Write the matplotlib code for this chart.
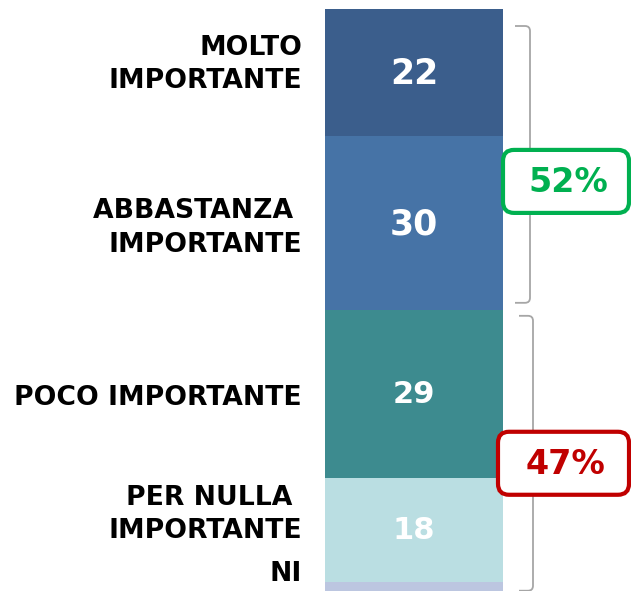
import matplotlib
matplotlib.use("Agg")
import matplotlib.pyplot as plt
from matplotlib.path import Path
from matplotlib.patches import PathPatch, FancyBboxPatch

# ---- data -------------------------------------------------------------
categories = ["MOLTO\nIMPORTANTE", "ABBASTANZA \nIMPORTANTE", "POCO IMPORTANTE",
              "PER NULLA \nIMPORTANTE", "NI"]
values = [22, 30, 29, 18, 2]
show_value = [True, True, True, True, False]
seg_colors = ["#3B5E8C", "#4673A6", "#3D8B8F", "#BADEE2", "#BCC6E0"]
# grouped totals: (first segment, last segment exclusive)
groups = [(0, 2), (2, 4)]
group_colors = ["#00B050", "#C00000"]

# ---- layout -----------------------------------------------------------
W, H = 631, 591
PX = 5.785          # pixels per percentage point
TOP = 9             # pixel row where the bar starts


def to_px(v):
    return TOP + v * PX


fig = plt.figure(figsize=(W / 100, H / 100), dpi=100)
ax = fig.add_axes([0, 0, 1, 1])
ax.set_xlim(0, W)
ax.set_ylim((H - TOP) / PX, -TOP / PX)
ax.axis("off")

bar_x, bar_w = 413.9, 177.7
starts = [sum(values[:i]) for i in range(len(values))]
ax.bar([bar_x] * len(values), values, bottom=starts, width=bar_w,
       color=seg_colors, linewidth=0)

# value labels inside the segments
value_sizes = [25, 25, 22, 22, 22]
for v, s, show, fs in zip(values, starts, show_value, value_sizes):
    if show:
        ax.text(bar_x, s + v / 2 + 1 / PX, f"{v}", ha="center", va="center",
                color="white", fontsize=fs, fontweight="bold")

# category labels to the left of the bar (pixel offsets from segment centre)
label_shift = [-8, 5, 4, -15, -13]
for cat, v, s, dy in zip(categories, values, starts, label_shift):
    ax.text(302, s + v / 2 + dy / PX, cat, ha="right", va="center",
            multialignment="right", fontsize=19.2, fontweight="bold",
            color="black", linespacing=1.38)

# overlay in pixel coordinates for brackets and total boxes
ov = fig.add_axes([0, 0, 1, 1])
ov.set_xlim(0, W)
ov.set_ylim(H, 0)
ov.axis("off")
ov.patch.set_alpha(0)


def bracket(x_left, x_right, y0, y1, r=5):
    verts = [(x_left, y0), (x_right - r, y0), (x_right, y0), (x_right, y0 + r),
             (x_right, y1 - r), (x_right, y1), (x_right - r, y1), (x_left, y1)]
    codes = [Path.MOVETO, Path.LINETO, Path.CURVE3, Path.CURVE3,
             Path.LINETO, Path.CURVE3, Path.CURVE3, Path.LINETO]
    ov.add_patch(PathPatch(Path(verts, codes), fill=False, ec="#A6A6A6", lw=1.3))


bracket_geom = [  # x_left, x_right, top inset, bottom inset
    (515, 530, 17, -7),
    (519, 533, 6, 9),
]
box_geom = [  # x0, x1, centre offset from bracket middle
    (503, 629, 17),
    (498, 629, 10),
]
for (g0, g1), col, (xl, xr, ti, bi), (bx0, bx1, boff) in zip(
        groups, group_colors, bracket_geom, box_geom):
    total = sum(values[g0:g1])
    y0 = to_px(starts[g0]) + ti
    y1 = to_px(starts[g0] + total) + bi
    bracket(xl, xr, y0, y1)
    yc = (y0 + y1) / 2 + boff
    bh = 63
    ov.add_patch(FancyBboxPatch((bx0, yc - bh / 2), bx1 - bx0, bh,
                                boxstyle="round,pad=0,rounding_size=11",
                                ec=col, fc="white", lw=3, zorder=3))
    ov.text((bx0 + bx1) / 2 + 2, yc + 1, f"{total}%", ha="center", va="center",
            color=col, fontsize=24, fontweight="bold", zorder=4)

fig.savefig("out.png", dpi=100)
